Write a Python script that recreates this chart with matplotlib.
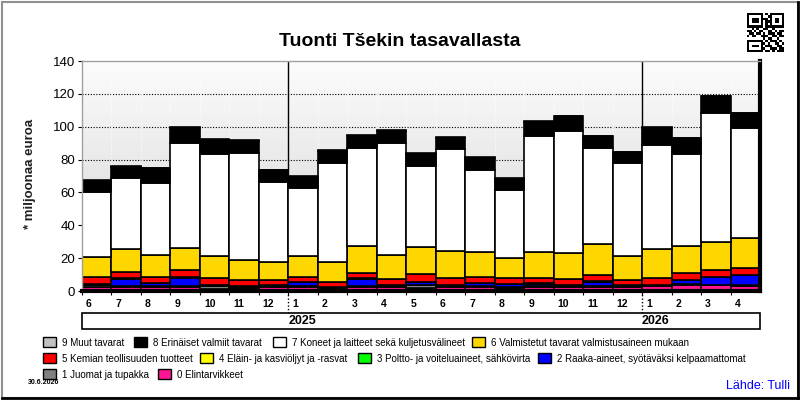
import matplotlib

matplotlib.use("Agg")
import matplotlib.pyplot as plt
import numpy as np
from matplotlib import transforms
from matplotlib.colors import LinearSegmentedColormap
from matplotlib.patches import Rectangle

plt.rcParams["font.family"] = ["Liberation Sans", "DejaVu Sans"]

# kuukaudet 6/2024 - 4/2026
months = ["6", "7", "8", "9", "10", "11", "12",
          "1", "2", "3", "4", "5", "6", "7", "8", "9", "10", "11", "12",
          "1", "2", "3", "4"]
years = ["2025", "2026"]
year_start_idx = [7, 19]

# milj. euroa, SITC-ryhmät
sitc0 = [2.5, 2.5, 2.5, 2.5, 1.5, 1.8, 2.5, 2.5, 1.0, 2.5, 2.5, 2.0, 2.5, 2.5, 2.0, 2.5, 2.5, 2.5, 2.5, 3.3, 3.5, 3.5, 3.0]
sitc1 = [1.0, 0.4, 0.4, 0.4, 1.6, 0.8, 0.4, 0.8, 1.0, 0.4, 0.5, 1.5, 0.8, 0.5, 0.6, 0.8, 0.5, 0.8, 0.5, 0.2, 0.6, 0.2, 0.5]
sitc2 = [0.4, 4.7, 1.8, 5.2, 0.3, 0.3, 0.3, 2.0, 0.2, 4.7, 0.5, 2.0, 0.4, 1.6, 1.5, 1.2, 0.5, 2.4, 0.5, 0.2, 2.4, 4.6, 6.1]
sitc3 = [0.1] * 23
sitc4 = [0.1] * 23
sitc5 = [4.2, 3.6, 3.8, 4.5, 4.1, 3.6, 3.3, 3.0, 2.9, 3.2, 3.6, 4.6, 4.0, 3.5, 3.4, 3.0, 3.6, 3.7, 2.8, 3.8, 4.1, 4.3, 4.0]
sitc6 = [12.2, 14.0, 13.0, 13.2, 13.4, 12.2, 10.8, 12.6, 12.4, 16.4, 14.4, 16.3, 16.4, 15.2, 12.2, 15.8, 15.6, 18.8, 14.6, 17.7, 16.4, 17.0, 18.3]
sitc7 = [40.0, 43.1, 44.3, 63.8, 62.0, 64.8, 49.1, 41.3, 60.5, 59.4, 68.1, 49.6, 61.9, 49.9, 41.3, 70.6, 74.2, 58.4, 57.1, 63.2, 55.9, 78.3, 66.9]
sitc8 = [6.4, 6.9, 8.8, 9.4, 9.1, 7.6, 7.0, 6.9, 7.0, 7.6, 7.6, 6.9, 6.9, 7.5, 6.9, 8.8, 9.4, 7.5, 6.4, 10.9, 10.1, 10.7, 9.4]
sitc9 = [0.6, 0.6, 0.2, 0.6, 0.3, 0.6, 0.2, 0.6, 0.6, 0.5, 0.6, 0.6, 0.6, 0.6, 0.6, 0.6, 0.2, 0.2, 0.2, 0.1, 0.1, 0.1, 0.1]

series = [
    (sitc0, "#ff1493", "0 Elintarvikkeet"),
    (sitc1, "#808080", "1 Juomat ja tupakka"),
    (sitc2, "#0000ff", "2 Raaka-aineet, syötäväksi kelpaamattomat"),
    (sitc3, "#00ff00", "3 Poltto- ja voiteluaineet, sähkövirta"),
    (sitc4, "#ffff00", "4 Eläin- ja kasviöljyt ja -rasvat"),
    (sitc5, "#ff0000", "5 Kemian teollisuuden tuotteet"),
    (sitc6, "#ffd700", "6 Valmistetut tavarat valmistusaineen mukaan"),
    (sitc7, "#ffffff", "7 Koneet ja laitteet sekä kuljetusvälineet"),
    (sitc8, "#000000", "8 Erinäiset valmiit tavarat"),
    (sitc9, "#c0c0c0", "9 Muut tavarat"),
]

W, H = 800, 400
fig = plt.figure(figsize=(8, 4), dpi=100)


def fx(px):
    return px / W


def fy(py):
    return 1 - py / H


ax = fig.add_axes([fx(82), fy(291), fx(760) - fx(82), fy(61) - fy(291)])

n = len(months)
x = np.arange(n)

# taustan liukuväri
grad = np.linspace(0, 1, 256).reshape(-1, 1)
cmap = LinearSegmentedColormap.from_list("bg", ["#fcfcfc", "#d2d2d2"])
ax.imshow(grad, extent=(-0.5, n - 0.5, 0, 140), aspect="auto", cmap=cmap, origin="upper", zorder=0)

for yv in range(20, 140, 20):
    ax.axhline(yv, color="black", linestyle=(0, (1, 1.5)), linewidth=0.8, zorder=1)
for xb in x[1:] - 0.5:
    ax.axvline(xb, color="white", linestyle=(0, (1, 2)), linewidth=0.8, zorder=1)
for yi in year_start_idx:
    ax.axvline(yi - 0.5, color="black", linewidth=1.0, zorder=1.5)

bottom = np.zeros(n)
for vals, color, label in series:
    v = np.array(vals)
    ax.bar(x, v, bottom=bottom, width=1.0, color=color, edgecolor="black", linewidth=1.2, zorder=2)
    bottom += v

ax.set_xlim(-0.5, n - 0.5)
ax.set_ylim(0, 140)
ax.set_yticks(range(0, 141, 20))
ax.tick_params(axis="y", labelsize=9.5, length=3, direction="out", pad=2)

ax.set_xticks(x - 0.5)
ax.set_xticklabels(months, fontsize=7.5, fontweight="bold", ha="left")
ax.tick_params(axis="x", length=3, direction="out", pad=3)
offset = transforms.ScaledTranslation(4 / 100, 0, fig.dpi_scale_trans)
for lab in ax.get_xticklabels():
    lab.set_transform(lab.get_transform() + offset)

for side in ("left", "top"):
    ax.spines[side].set_color("#a0a0a0")
    ax.spines[side].set_linewidth(1.0)
for side in ("right", "bottom"):
    ax.spines[side].set_color("black")
    ax.spines[side].set_linewidth(3.0)

# vuosilaatikko
box_top = -(313 - 291) / 230
box_bot = -(329 - 291) / 230
ax.add_patch(Rectangle((0, box_bot), 1, box_top - box_bot, transform=ax.transAxes,
                       facecolor="white", edgecolor="black", linewidth=1.2, clip_on=False))
blend = transforms.blended_transform_factory(ax.transData, ax.transAxes)
for yi, yr in zip(year_start_idx, years):
    ax.plot([yi - 0.5, yi - 0.5], [0, box_top], transform=blend, color="black",
            linestyle=(0, (1, 1.5)), linewidth=1.0, clip_on=False)
    ax.text(yi - 0.5, (box_top + box_bot) / 2, yr, transform=blend, ha="left", va="center",
            fontsize=9, fontweight="bold")

fig.text(fx(400), fy(42), "Tuonti Tšekin tasavallasta", ha="center", va="center",
         fontsize=14, fontweight="bold")
fig.text(fx(30), fy(174), "* miljoonaa euroa", rotation=90, ha="center", va="center",
         fontsize=9.5, fontweight="bold", color="#202020")

# selite
legend_pos = {
    "9 Muut tavarat": (43, 342),
    "8 Erinäiset valmiit tavarat": (134, 342),
    "7 Koneet ja laitteet sekä kuljetusvälineet": (273, 342),
    "6 Valmistetut tavarat valmistusaineen mukaan": (472, 342),
    "5 Kemian teollisuuden tuotteet": (43, 358),
    "4 Eläin- ja kasviöljyt ja -rasvat": (200, 358),
    "3 Poltto- ja voiteluaineet, sähkövirta": (358, 358),
    "2 Raaka-aineet, syötäväksi kelpaamattomat": (538, 358),
    "1 Juomat ja tupakka": (43, 374),
    "0 Elintarvikkeet": (158, 374),
}
for vals, color, label in series:
    bx, by = legend_pos[label]
    fig.patches.append(Rectangle((fx(bx), fy(by + 5)), 13 / W, 10 / H, transform=fig.transFigure,
                                 facecolor=color, edgecolor="black", linewidth=1.0))
    fig.text(fx(bx + 19), fy(by + 1), label, ha="left", va="center", fontsize=7)

fig.text(fx(28), fy(383), "30.6.2026", ha="left", va="center", fontsize=5, fontweight="bold")
fig.text(fx(790), fy(386), "Lähde: Tulli", ha="right", va="center", fontsize=9, color="#0000ff")

# QR-merkki
qr = [
    "1111111010111111",
    "1000001001100001",
    "1011101110101101",
    "1011101011101101",
    "1000001010100001",
    "1111111011111111",
    "0010100110010000",
    "1101011001101011",
    "0110110101110110",
    "1011001110011011",
    "0000000101100100",
    "1111111010111010",
    "1000001101001101",
    "1011101011100110",
    "1000001100111011",
    "1111111011010111",
]
qax = fig.add_axes([fx(747), fy(52), 37 / W, 39 / H])
qax.imshow(np.array([[int(c) for c in row] for row in qr]), cmap="gray_r", interpolation="nearest", aspect="auto")
qax.axis("off")

# kehys
fig.patches.append(Rectangle((0.002, 0.004), 0.995, 0.992, transform=fig.transFigure,
                             fill=False, edgecolor="#909090", linewidth=1.5))
fig.add_artist(plt.Line2D([0.997, 0.997], [0.004, 0.996], transform=fig.transFigure, color="black", linewidth=2))
fig.add_artist(plt.Line2D([0.002, 0.997], [0.004, 0.004], transform=fig.transFigure, color="black", linewidth=2))

fig.savefig("out.png", dpi=100)
plt.close(fig)
